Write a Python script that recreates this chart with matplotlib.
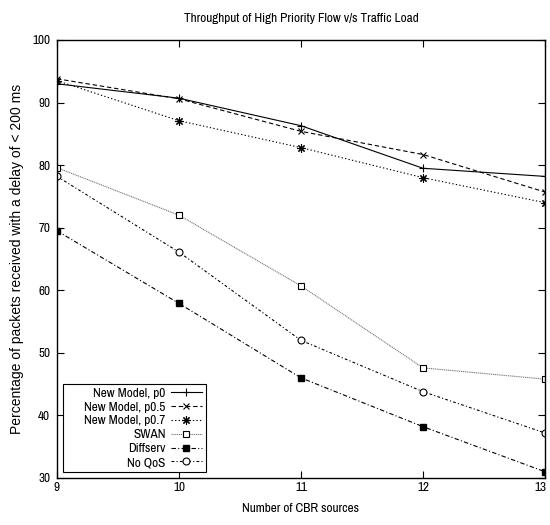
import numpy as np
import matplotlib
matplotlib.use('Agg')
import matplotlib.pyplot as plt
from matplotlib import transforms

plt.rcParams['font.family'] = ['Archivo Narrow', 'Roboto Condensed', 'Liberation Sans', 'DejaVu Sans']

# data
sources   = [9, 10, 11, 12, 13]
model_p0  = [93.0, 90.7, 86.3, 79.5, 78.2]
model_p05 = [93.8, 90.6, 85.4, 81.7, 75.7]
model_p07 = [93.5, 87.1, 82.8, 78.0, 74.0]
swan      = [79.6, 72.0, 60.7, 47.6, 45.8]
diffserv  = [69.5, 57.9, 46.0, 38.2, 31.0]
no_qos    = [78.2, 66.1, 52.0, 43.8, 37.2]

W, H = 550, 525
fig = plt.figure(figsize=(W / 100, H / 100), dpi=100)
ax = fig.add_axes([57 / W, 1 - 478 / H, 488 / W, 438 / H])

lw = 0.8
ms = 5
ax.plot(sources, model_p0, color='black', linestyle='-', linewidth=lw,
        marker='+', markersize=ms + 1, markeredgewidth=0.8, label='New Model, p0')
ax.plot(sources, model_p05, color='black', linestyle=(0, (4, 2.5)), linewidth=lw,
        marker='x', markersize=ms, markeredgewidth=0.8, label='New Model, p0.5')
ax.plot(sources, model_p07, color='black', linestyle=(0, (1.2, 2)), linewidth=lw,
        marker=(8, 2, 0), markersize=ms + 1, markeredgewidth=0.8, label='New Model, p0.7')
ax.plot(sources, swan, color='#777777', linestyle=(0, (1, 0.7)), linewidth=lw,
        marker='s', markersize=ms, markerfacecolor='white', markeredgecolor='black',
        markeredgewidth=0.8, label='SWAN')
ax.plot(sources, diffserv, color='black', linestyle=(0, (4, 2, 1, 2)), linewidth=lw,
        marker='s', markersize=ms, markerfacecolor='black', markeredgecolor='black',
        label='Diffserv')
ax.plot(sources, no_qos, color='black', linestyle=(0, (2.5, 2, 1, 2)), linewidth=lw,
        marker='o', markersize=ms, markerfacecolor='white', markeredgecolor='black',
        markeredgewidth=0.8, label='No QoS')

fs = 9.5
ax.set_xlim(9, 13)
ax.set_ylim(30, 100)
ax.set_xticks(sources)
ax.set_yticks(np.arange(30, 101, 10))
ax.tick_params(direction='in', top=True, right=True, length=5, width=0.8, labelsize=fs)
ax.tick_params(axis='x', pad=3)
ax.tick_params(axis='y', pad=5)
for s in ax.spines.values():
    s.set_linewidth(1.0)

# keep the last x tick label inside the figure
last = ax.get_xticklabels()[-1]
last.set_transform(last.get_transform() + transforms.ScaledTranslation(-3 / 72, 0, fig.dpi_scale_trans))

ax.set_title('Throughput of High Priority Flow v/s Traffic Load', fontsize=fs, pad=13)
ax.set_xlabel('Number of CBR sources', fontsize=fs, labelpad=7)
ax.set_ylabel('Percentage of packets received with a delay of < 200 ms',
              fontsize=10, labelpad=6, family=['Liberation Sans', 'DejaVu Sans'])

leg = ax.legend(loc='lower left', markerfirst=False, fontsize=fs, frameon=True,
                fancybox=False, edgecolor='black', framealpha=1, borderaxespad=0.45,
                handlelength=2.35, handletextpad=1.7, labelspacing=0.2, borderpad=0.3)
leg.get_frame().set_linewidth(0.8)

# right-align the legend labels next to the line samples, like gnuplot does
fig.canvas.draw()
renderer = fig.canvas.get_renderer()
boxes = [t.get_window_extent(renderer) for t in leg.get_texts()]
pad_px = 1.7 * fs * 100 / 72
x_right = max(b.x1 for b in boxes) + pad_px - 5
for t, b in zip(leg.get_texts(), boxes):
    t.set_alpha(0)
    fig.text(x_right / W, b.y0 / H, t.get_text(), ha='right', va='bottom', fontsize=fs)

fig.savefig('out.png', dpi=100)
